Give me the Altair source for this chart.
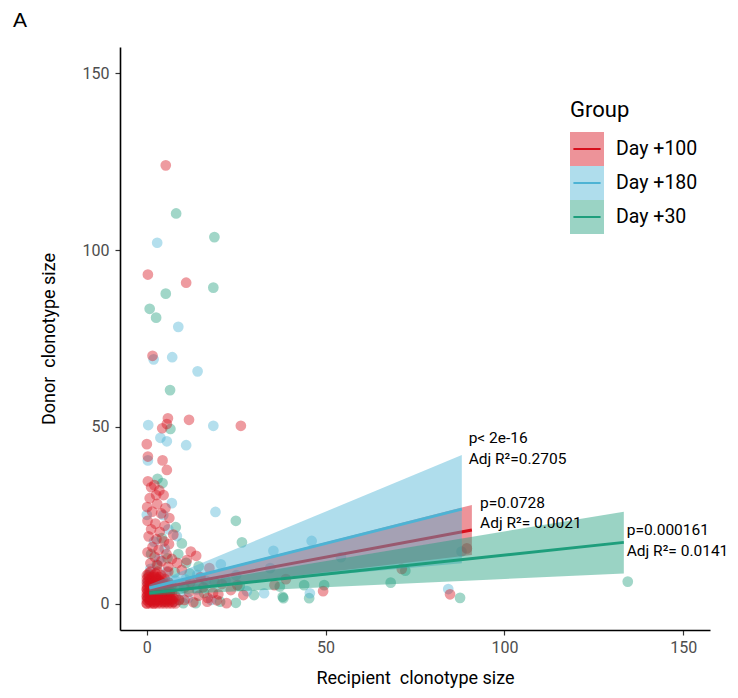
import altair as alt
import pandas as pd

groups = ["Day +100", "Day +180", "Day +30"]
colors = ["#D7101C", "#4DB3D4", "#1E9E7C"]

# ---- scatter points ----
d30_x = [8.2, 18.9, 5.3, 18.6, 0.8, 2.6, 6.5, 6.6, 3.0, 4.4, 24.9, 26.6, 8.1, 9.8, 134.5,
         44.0, 37.2, 49.6, 45.4, 38.2, 72.3, 68.2, 87.6, 38.0, 30.0, 24.9, 13.7, 10.2,
         0.5, 2.0, 3.5, 5.0, 6.8, 1.2, 4.2, 7.8, 9.0, 10.5, 12.0, 14.5, 2.8, 0.3, 5.8,
         8.8, 11.0, 16.0, 19.0, 20.5, 26.0, 6.0]
d30_y = [110.4, 103.7, 87.7, 89.4, 83.4, 80.9, 60.4, 49.4, 35.3, 34.1, 23.4, 17.3, 21.6, 17.0, 6.2,
         5.2, 4.8, 5.2, 1.5, 1.5, 9.3, 5.9, 1.6, 1.9, 2.4, 0.2, 0.1, 0.1,
         8.0, 5.5, 2.5, 0.5, 4.0, 14.0, 18.5, 8.8, 1.0, 4.5, 8.5, 10.5, 11.0, 1.5, 12.8,
         14.0, 11.5, 3.0, 6.0, 0.5, 5.0, 6.0]

d180_x = [2.9, 8.8, 1.9, 7.1, 14.2, 0.4, 18.6, 3.8, 5.6, 11.0, 0.3, 7.0, 0.0, 4.6, 19.2,
          8.4, 32.8, 45.6, 84.3, 88.0, 46.1, 54.3, 35.4, 20.7, 34.5, 14.1,
          1.0, 2.5, 4.5, 0.5, 6.5, 3.5, 5.0, 8.0, 9.5, 10.8, 1.5, 7.5, 2.0, 6.0, 11.5,
          14.0, 16.5, 18.0, 0.2, 3.0, 5.5, 22.0, 25.0, 28.0]
d180_y = [102.1, 78.3, 69.1, 69.7, 65.7, 50.5, 50.3, 46.9, 45.9, 44.8, 40.5, 28.4, 25.1, 25.0, 25.9,
          19.1, 2.9, 2.9, 4.1, 14.7, 17.7, 13.1, 14.9, 11.1, 10.0, 8.1,
          9.8, 7.0, 5.5, 3.0, 2.5, 12.5, 15.5, 6.5, 3.5, 6.8, 1.0, 0.5, 17.5, 21.0, 1.5,
          4.0, 6.5, 1.0, 6.0, 4.0, 9.0, 6.5, 8.0, 3.5]

d100_x = [5.3, 0.3, 11.0, 1.6, 5.9, 11.8, 26.3, 5.6, 4.3, 0.0, 0.3, 4.4, 5.6, 1.2, 2.6,
          4.7, 0.1, 12.3, 11.2, 13.8, 49.3, 84.8, 89.5, 27.0, 25.3, 22.3, 16.9, 17.5, 38.9,
          71.3, 35.7,
          0.3, 2.1, 3.5, 0.8, 2.9, 5.2, 1.5, 4.0, 6.3, 0.2, 2.4, 5.0, 1.2, 3.6, 7.4, 0.5,
          2.7, 4.8, 6.2, 1.6, 3.3, 0.2, 5.5, 2.2, 7.0, 4.1, 1.0, 3.0, 6.0, 8.5, 9.8,
          10.5, 11.8, 13.0, 14.5, 15.8, 17.0, 18.5, 19.6, 21.0, 12.2, 15.0, 20.0, 23.5]
d100_y = [124.0, 93.1, 90.8, 70.1, 52.4, 52.0, 50.3, 50.8, 49.6, 45.1, 41.6, 40.5, 37.8, 32.9, 30.7,
          30.7, 27.3, 14.7, 12.3, 13.5, 3.5, 2.6, 15.6, 2.4, 5.2, 0.1, 0.5, 10.0, 6.9,
          9.8, 5.2,
          34.6, 33.5, 32.0, 29.8, 28.2, 27.0, 26.0, 25.5, 24.2, 23.4, 22.6, 22.0, 21.0, 20.3, 19.5, 19.0,
          18.2, 17.6, 16.8, 16.0, 15.2, 14.5, 14.0, 13.2, 12.6, 12.0, 11.4, 10.8, 10.4, 11.5, 9.5,
          1.0, 3.3, 0.4, 2.2, 4.6, 1.6, 3.0, 0.9, 5.5, 6.0, 7.5, 2.6, 3.8]

# Day +100: the dense block of small clonotypes near the origin (many repeats)
d100_core_x = [0, 1, 2, 3, 4, 5, 6, 7, 8,
               0, 1, 2, 3, 4, 5, 6, 7, 9,
               0, 1, 2, 3, 4, 5, 6, 8,
               0, 1, 2, 3, 4, 5, 7,
               0, 1, 2, 3, 4, 6,
               0, 1, 2, 3, 5, 7,
               0, 1, 2, 4, 6,
               0, 1, 3, 5,
               0, 2, 4,
               1, 3, 6,
               0.5, 1.5, 2.5, 3.5, 4.5, 5.5, 6.5, 7.5,
               0.5, 1.5, 2.5, 3.5, 4.5, 5.5, 6.5, 7.5,
               0.5, 1.5, 2.5, 3.5, 4.5, 5.5, 6.5,
               0.5, 1.5, 2.5, 3.5, 4.5, 5.5, 6.5,
               0.5, 1.5, 2.5, 3.5, 4.5, 5.5,
               0.5, 1.5, 2.5, 3.5, 4.5, 5.5,
               0.5, 1.5, 2.5, 3.5, 4.5,
               0.5, 1.5, 2.5, 3.5,
               0.5, 2.5,
               1, 2, 1, 3, 2, 0, 4, 1, 3, 0, 2, 0, 1, 2, 3, 1]
d100_core_y = [0, 0, 0, 0, 0, 0, 0, 0, 0,
               1, 1, 1, 1, 1, 1, 1, 1, 1,
               2, 2, 2, 2, 2, 2, 2, 2,
               3, 3, 3, 3, 3, 3, 3,
               4, 4, 4, 4, 4, 4,
               5, 5, 5, 5, 5, 5,
               6, 6, 6, 6, 6,
               7, 7, 7, 7,
               8, 8, 8,
               9, 9, 9,
               0.5, 0.5, 0.5, 0.5, 0.5, 0.5, 0.5, 0.5,
               1.5, 1.5, 1.5, 1.5, 1.5, 1.5, 1.5, 1.5,
               2.5, 2.5, 2.5, 2.5, 2.5, 2.5, 2.5,
               3.5, 3.5, 3.5, 3.5, 3.5, 3.5, 3.5,
               4.5, 4.5, 4.5, 4.5, 4.5, 4.5,
               5.5, 5.5, 5.5, 5.5, 5.5, 5.5,
               6.5, 6.5, 6.5, 6.5, 6.5,
               7.5, 7.5, 7.5, 7.5,
               8.5, 8.5,
               1, 2, 3, 1, 4, 2, 2, 5, 3, 0, 0, 4, 1, 1, 2, 2]

# ---- linear fits with confidence band (start / end of each fit) ----
fit_x_start = [0.7, 0.7, 0.7]
fit_x_end = [90.9, 88.1, 133.4]
fit_y_start = [3.8, 4.4, 3.0]
fit_y_end = [20.8, 26.7, 17.3]
lo_start = [3.0, 3.5, 2.3]
hi_start = [4.6, 5.3, 3.7]
lo_end = [13.7, 11.4, 8.5]
hi_end = [27.9, 42.0, 26.0]

# ---- annotations ----
ann_x = [90.0, 90.0, 93.2, 93.2, 134.2, 134.2]
ann_y = [46.8, 40.8, 28.5, 22.9, 20.9, 14.8]
ann_text = ["p< 2e-16", "Adj R\u00b2=0.2705", "p=0.0728", "Adj R\u00b2= 0.0021",
            "p=0.000161", "Adj R\u00b2= 0.0141"]

# ---- build tables ----
pts = pd.concat([
    pd.DataFrame({"x": d30_x, "y": d30_y, "Group": "Day +30"}),
    pd.DataFrame({"x": d180_x, "y": d180_y, "Group": "Day +180"}),
    pd.DataFrame({"x": d100_x, "y": d100_y, "Group": "Day +100"}),
    pd.DataFrame({"x": d100_core_x, "y": d100_core_y, "Group": "Day +100"}),
], ignore_index=True)

rows = []
for i, g in enumerate(groups):
    rows.append({"Group": g, "Line": g, "x": fit_x_start[i], "fit": fit_y_start[i],
                 "lo": lo_start[i], "hi": hi_start[i]})
    rows.append({"Group": g, "Line": g, "x": fit_x_end[i], "fit": fit_y_end[i],
                 "lo": lo_end[i], "hi": hi_end[i]})
fit = pd.DataFrame(rows)

ann = pd.DataFrame({"x": ann_x, "y": ann_y, "label": ann_text})

xscale = alt.Scale(domain=[-7.5, 157.5], nice=False, zero=False)
yscale = alt.Scale(domain=[-7.5, 157.5], nice=False, zero=False)
xaxis = alt.Axis(values=[0, 50, 100, 150], title="Recipient\u00a0 clonotype size",
                 labelPadding=4, titlePadding=14)
yaxis = alt.Axis(values=[0, 50, 100, 150], title="Donor\u00a0 clonotype size",
                 labelPadding=6, titlePadding=24)
cscale = alt.Scale(range=colors)                 # points (legend: fit-line strokes)
fscale = alt.Scale(domain=groups, range=colors)  # ribbons (legend boxes)
sscale = alt.Scale(range=colors)                 # fit lines

leg_fill = alt.Legend(title="Group", orient="none", legendX=450, legendY=53,
                      symbolType="square", symbolSize=1156, symbolOpacity=0.45,
                      symbolStrokeWidth=0, rowPadding=0, labelOffset=12,
                      labelFont="Roboto", labelFontSize=19.5, labelColor="black",
                      titleFont="Roboto", titleFontSize=22, titleFontWeight="normal",
                      titleColor="black", titlePadding=10, padding=0)
# legend key strokes: a thin filled bar, path bounds kept to the full key box
leg_line = alt.Legend(title=None, orient="none", legendX=450, legendY=85,
                      symbolType="M0,-1M-0.8,-0.058H0.8V0.058H-0.8ZM0,1", symbolSize=1156,
                      symbolStrokeWidth=0, symbolOpacity=1, rowPadding=0, labelOffset=12,
                      labelExpr="''", labelFontSize=12, padding=0)

points = alt.Chart(pts).mark_circle(size=115, fillOpacity=0.42).encode(
    x=alt.X("x:Q", scale=xscale, axis=xaxis),
    y=alt.Y("y:Q", scale=yscale, axis=yaxis),
    color=alt.Color("Group:N", scale=cscale, legend=leg_line),
)

layers = [points]
for g in groups:
    base = alt.Chart(fit).transform_filter(alt.datum.Group == g)
    area = base.mark_area(opacity=0.45).encode(
        x=alt.X("x:Q", scale=xscale, axis=xaxis),
        y=alt.Y("lo:Q", scale=yscale, axis=yaxis),
        y2="hi:Q",
        fill=alt.Fill("Group:N", scale=fscale, legend=leg_fill),
    )
    line = base.mark_line(strokeWidth=3).encode(
        x=alt.X("x:Q", scale=xscale, axis=xaxis),
        y=alt.Y("fit:Q", scale=yscale, axis=yaxis),
        stroke=alt.Stroke("Line:N", scale=sscale, legend=None),
    )
    layers += [area, line]

texts = alt.Chart(ann).mark_text(align="left", baseline="middle", font="Roboto",
                                  fontSize=15.5, color="black").encode(
    x=alt.X("x:Q", scale=xscale, axis=xaxis),
    y=alt.Y("y:Q", scale=yscale, axis=yaxis),
    text="label:N",
)
panel = alt.Chart(pd.DataFrame({"t": ["A"]})).mark_text(
    align="left", baseline="alphabetic", font="Liberation Sans", fontSize=21, color="black"
).encode(x=alt.value(-107), y=alt.value(-20), text="t:N")

layers += [texts, panel]

chart = alt.layer(*layers).properties(
    width=590, height=583,
    autosize=alt.AutoSizeParams(type="none"),
    padding={"left": 112, "top": 39, "right": 20, "bottom": 60},
).configure_view(stroke=None).configure_axis(
    grid=False, domainColor="black", domainWidth=1.6, tickColor="#333333",
    tickWidth=1.2, tickSize=5, labelColor="#4D4D4D", labelFont="Roboto",
    labelFontSize=16, titleFont="Roboto", titleFontSize=18, titleFontWeight="normal",
    titleColor="black",
)

chart.save("out.html", embed_options={"renderer": "svg", "actions": False})
